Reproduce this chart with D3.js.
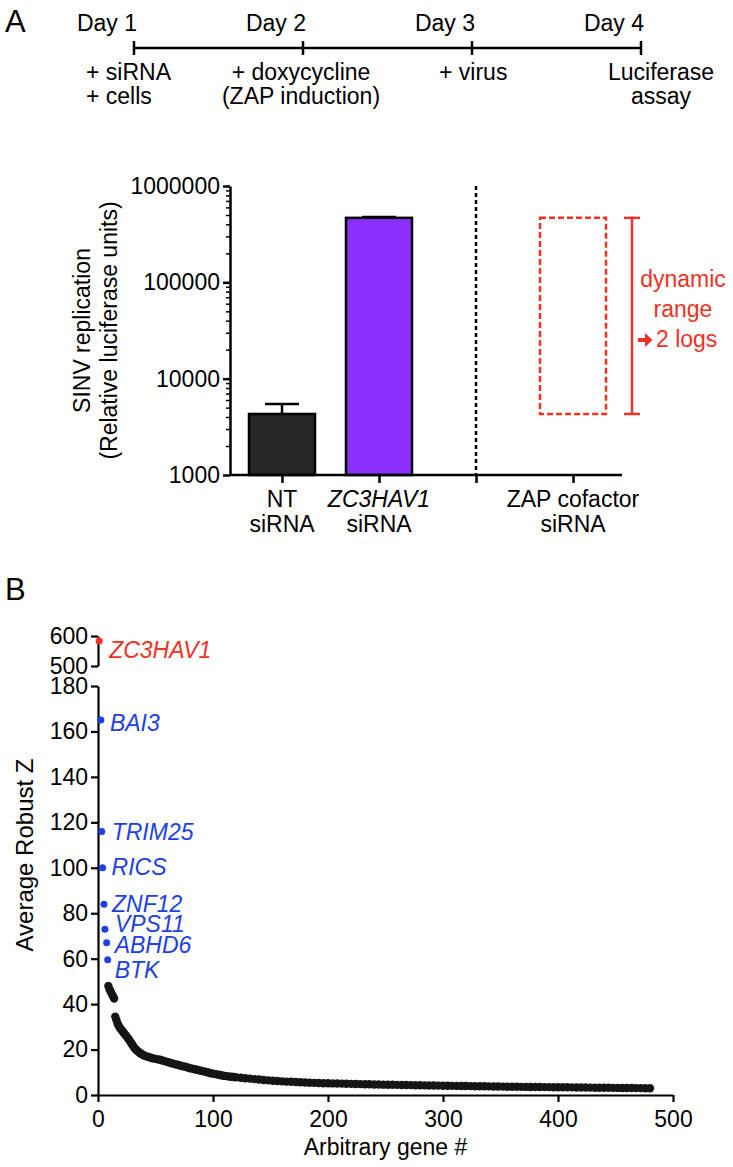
<!DOCTYPE html>
<html>
<head>
<meta charset="utf-8">
<script src="https://cdnjs.cloudflare.com/ajax/libs/d3/7.8.5/d3.min.js"></script>
<style>
  body { margin: 0; background: #fff; }
  svg text { font-family: "Liberation Sans", Arial, Helvetica, sans-serif; }
</style>
</head>
<body>
<div id="figure"></div>
<script>
// ---------------- Panel A data ----------------
var timelineDays = ["Day 1", "Day 2", "Day 3", "Day 4"];
var timelineNotes = [["+ siRNA", "+ cells"], ["+ doxycycline", "(ZAP induction)"], ["+ virus"], ["Luciferase", "assay"]];

var barLabels = [["NT", "siRNA"], ["ZC3HAV1", "siRNA"], ["ZAP cofactor", "siRNA"]];
var barValues = [4300, 467000];      // mean luciferase units
var barErrorTop = [5450, 478000];    // upper end of error bar
var logTicks = [1000, 10000, 100000, 1000000];

// ---------------- Panel B data ----------------
var hitGenes = ["ZC3HAV1", "BAI3", "TRIM25", "RICS", "ZNF12", "VPS11", "ABHD6", "BTK"];
var hitRank = [1, 2.5, 3.2, 4, 5.2, 6, 7.5, 8.4];
var hitZ = [583, 165, 116, 100, 84, 73, 67, 59.5];

// [rank, average robust Z] for the remaining genes
var otherGenes = [
  [9, 48], [10, 46.5], [11, 45.5], [12, 44.5], [13, 43.5], [14, 42.5],
  [15, 34.5], [16, 33], [17, 31.5], [18, 30.5], [19, 29.5], [20, 29], [21, 28.3], [22, 27.6],
  [23, 27], [24, 26.3], [25, 25.7], [26, 25], [27, 24.3], [28, 23.5], [29, 22.8], [30, 22],
  [31, 21.2], [32, 20.5], [33, 20], [34, 19.5], [35, 19.1], [36, 18.7], [37, 18.3], [38, 18],
  [39, 17.7], [40, 17.4], [42, 17], [44, 16.7], [46, 16.4], [48, 16.1], [50, 15.9], [52, 15.7],
  [54, 15.5], [56, 15.2], [58, 14.9], [60, 14.6], [62, 14.3], [64, 14], [66, 13.7], [68, 13.4],
  [70, 13.2], [72, 12.9], [74, 12.6], [76, 12.4], [78, 12.1], [80, 11.8], [82, 11.6], [84, 11.3],
  [86, 11.1], [88, 10.9], [90, 10.6], [92, 10.4], [94, 10.1], [96, 9.9], [98, 9.6], [100, 9.4],
  [102, 9.2], [104, 9], [106, 8.8], [108, 8.6], [110, 8.4], [112, 8.3], [114, 8.1], [116, 8],
  [118, 7.9], [120, 7.8], [124, 7.6], [128, 7.4], [132, 7.2], [136, 7], [140, 6.8], [144, 6.6],
  [148, 6.45], [152, 6.3], [156, 6.15], [160, 6], [164, 5.9], [168, 5.8], [172, 5.7], [176, 5.6],
  [180, 5.5], [184, 5.4], [188, 5.35], [192, 5.3], [196, 5.2], [200, 5.15], [204, 5.1], [208, 5.05],
  [212, 5], [216, 4.95], [220, 4.9], [224, 4.85], [228, 4.8], [232, 4.75], [236, 4.7], [240, 4.65],
  [244, 4.6], [248, 4.55], [252, 4.5], [256, 4.48], [260, 4.45], [264, 4.42], [268, 4.38], [272, 4.35],
  [276, 4.3], [280, 4.28], [284, 4.25], [288, 4.2], [292, 4.17], [296, 4.14], [300, 4.1], [304, 4.06],
  [308, 4.03], [312, 4], [316, 3.97], [320, 3.94], [324, 3.91], [328, 3.88], [332, 3.85], [336, 3.82],
  [340, 3.79], [344, 3.76], [348, 3.72], [352, 3.69], [356, 3.66], [360, 3.63], [364, 3.6], [368, 3.58],
  [372, 3.56], [376, 3.54], [380, 3.52], [384, 3.5], [388, 3.48], [392, 3.46], [396, 3.44], [400, 3.42],
  [404, 3.4], [408, 3.38], [412, 3.36], [416, 3.33], [420, 3.3], [424, 3.28], [428, 3.25], [432, 3.22],
  [436, 3.2], [440, 3.18], [444, 3.16], [448, 3.14], [452, 3.12], [456, 3.1], [460, 3.08], [464, 3.06],
  [468, 3.04], [472, 3.02], [476, 3], [480, 2.98]
];
var zTicksTop = [500, 600];
var zTicksBottom = [0, 20, 40, 60, 80, 100, 120, 140, 160, 180];
var rankTicks = [0, 100, 200, 300, 400, 500];

// ---------------- setup ----------------
var width = 733, height = 1167;
var fs = 23;
var red = "#ee3224", blue = "#1d3fe6";

var svg = d3.select("#figure").append("svg")
    .attr("width", width)
    .attr("height", height)
    .attr("viewBox", "0 0 " + width + " " + height);

svg.append("rect").attr("width", width).attr("height", height).attr("fill", "#fff");

// shared axis look: thick black lines, large labels
function styleAxis(g, sw) {
    g.select(".domain").attr("stroke", "#000").attr("stroke-width", sw);
    g.selectAll(".tick line").attr("stroke", "#000").attr("stroke-width", sw);
    g.selectAll(".tick text").attr("fill", "#000").style("font-size", fs + "px");
}

// panel letters
svg.append("text").attr("x", 5).attr("y", 32).style("font-size", "31px").text("A");
svg.append("text").attr("x", 5).attr("y", 600).style("font-size", "31px").text("B");

// ****************** Panel A: timeline ******************
var xDay = d3.scalePoint().domain(timelineDays).range([134, 641]);
var tl = svg.append("g");

tl.append("line")
    .attr("x1", xDay(timelineDays[0])).attr("x2", xDay(timelineDays[3]))
    .attr("y1", 48).attr("y2", 48)
    .attr("stroke", "#000").attr("stroke-width", 2.5);

tl.selectAll("line.dtick").data(timelineDays).enter().append("line")
    .attr("class", "dtick")
    .attr("x1", function (d) { return xDay(d); }).attr("x2", function (d) { return xDay(d); })
    .attr("y1", 41).attr("y2", 55)
    .attr("stroke", "#000").attr("stroke-width", 2.5);

tl.selectAll("text.day").data(timelineDays).enter().append("text")
    .attr("class", "day")
    .attr("x", function (d) { return xDay(d) + 3; })
    .attr("y", 31)
    .attr("text-anchor", "end")
    .style("font-size", fs + "px")
    .text(function (d) { return d; });

// note block alignment relative to its day tick
var noteAnchor = ["start", "middle", "start", "middle"];
var noteShift = [-48, -2, -33, 20];
timelineNotes.forEach(function (lines, i) {
    var t = tl.append("text")
        .attr("text-anchor", noteAnchor[i])
        .style("font-size", fs + "px");
    lines.forEach(function (s, j) {
        t.append("tspan")
            .attr("x", xDay(timelineDays[i]) + noteShift[i])
            .attr("y", 80 + j * 24)
            .text(s);
    });
});

// ****************** Panel A: bar chart ******************
var axisXA = 230, baseA = 475;
var yA = d3.scaleLog().domain([1000, 1000000]).range([baseA, 186]);
var xA = d3.scaleLinear().domain([0, 3]).range([282, 573]);
var barW = 66;
var gA = svg.append("g");

// minor log ticks
var minorTicks = [];
logTicks.slice(0, 3).forEach(function (dec) {
    for (var k = 2; k < 10; k++) minorTicks.push(dec * k);
});
gA.append("g")
    .attr("transform", "translate(" + axisXA + ",0)")
    .call(d3.axisLeft(yA).tickValues(minorTicks).tickSize(4).tickSizeOuter(0).tickFormat(""))
    .call(function (g) { g.select(".domain").remove(); g.selectAll(".tick line").attr("stroke", "#000").attr("stroke-width", 1.5); });

gA.append("g")
    .attr("transform", "translate(" + axisXA + ",0)")
    .call(d3.axisLeft(yA).tickValues(logTicks).tickSize(7).tickSizeOuter(0).tickFormat(d3.format("d")))
    .call(styleAxis, 2.5);

// bars
gA.selectAll("rect.bar").data(barValues).enter().append("rect")
    .attr("class", "bar")
    .attr("x", function (d, i) { return xA(i) - barW / 2; })
    .attr("y", function (d) { return yA(d); })
    .attr("width", barW)
    .attr("height", function (d) { return baseA - yA(d); })
    .attr("fill", function (d, i) { return i === 0 ? "#262626" : "#8b30ff"; })
    .attr("stroke", "#000")
    .attr("stroke-width", 2.5);

// error bars
barErrorTop.forEach(function (e, i) {
    gA.append("line")
        .attr("x1", xA(i)).attr("x2", xA(i))
        .attr("y1", yA(barValues[i])).attr("y2", yA(e))
        .attr("stroke", "#000").attr("stroke-width", 2.5);
    gA.append("line")
        .attr("x1", xA(i) - 17).attr("x2", xA(i) + 17)
        .attr("y1", yA(e)).attr("y2", yA(e))
        .attr("stroke", "#000").attr("stroke-width", 2.5);
});

// x axis line and ticks
gA.append("line")
    .attr("x1", axisXA).attr("x2", 622).attr("y1", baseA).attr("y2", baseA)
    .attr("stroke", "#000").attr("stroke-width", 2.5);
gA.append("g")
    .attr("transform", "translate(0," + baseA + ")")
    .call(d3.axisBottom(xA).tickValues([0, 1, 2, 3]).tickSize(8).tickSizeOuter(0).tickFormat(""))
    .call(function (g) { g.select(".domain").remove(); g.selectAll(".tick line").attr("stroke", "#000").attr("stroke-width", 2.5); });

// dashed divider
gA.append("line")
    .attr("x1", xA(2)).attr("x2", xA(2))
    .attr("y1", 186).attr("y2", baseA)
    .attr("stroke", "#000").attr("stroke-width", 2.5)
    .attr("stroke-dasharray", "4,3");

// category labels (ZAP cofactor sits at position 3)
var labelPos = [0, 1, 3];
barLabels.forEach(function (lines, i) {
    lines.forEach(function (s, j) {
        gA.append("text")
            .attr("x", xA(labelPos[i]))
            .attr("y", 507 + j * 25)
            .attr("text-anchor", "middle")
            .style("font-size", fs + "px")
            .style("font-style", (i === 1 && j === 0) ? "italic" : "normal")
            .text(s);
    });
});

// y axis title
[["SINV replication", 90], ["(Relative luciferase units)", 117]].forEach(function (t) {
    gA.append("text")
        .attr("transform", "translate(" + t[1] + "," + (186 + baseA) / 2 + ") rotate(-90)")
        .attr("text-anchor", "middle")
        .style("font-size", fs + "px")
        .text(t[0]);
});

// expected range for a cofactor knockdown
var cx = xA(3);
gA.append("rect")
    .attr("x", cx - barW / 2).attr("y", yA(barValues[1]))
    .attr("width", barW).attr("height", yA(barValues[0]) - yA(barValues[1]))
    .attr("fill", "none").attr("stroke", red).attr("stroke-width", 2.5)
    .attr("stroke-dasharray", "6,3");

var rx = cx + 59;
gA.append("line").attr("x1", rx).attr("x2", rx)
    .attr("y1", yA(barValues[1])).attr("y2", yA(barValues[0]))
    .attr("stroke", red).attr("stroke-width", 2.5);
[barValues[1], barValues[0]].forEach(function (v) {
    gA.append("line").attr("x1", rx - 8).attr("x2", rx + 8)
        .attr("y1", yA(v)).attr("y2", yA(v))
        .attr("stroke", red).attr("stroke-width", 2.5);
});

gA.append("text").attr("x", 683).attr("y", 287).attr("text-anchor", "middle")
    .attr("fill", red).style("font-size", fs + "px").text("dynamic");
gA.append("text").attr("x", 683).attr("y", 317).attr("text-anchor", "middle")
    .attr("fill", red).style("font-size", fs + "px").text("range");
gA.append("path")
    .attr("d", "M638,338 h7 v-5 l7.5,7 l-7.5,7 v-5 h-7 z")
    .attr("fill", red);
gA.append("text").attr("x", 656).attr("y", 347)
    .attr("fill", red).style("font-size", fs + "px").text("2 logs");

// ****************** Panel B: ranked robust Z ******************
var axisXB = 98, baseB = 1095;
var xB = d3.scaleLinear().domain([0, 500]).range([axisXB, 673]);
var yBot = d3.scaleLinear().domain([0, 180]).range([baseB, 686]);
var yTop = d3.scaleLinear().domain([500, 600]).range([666, 636]);
var gB = svg.append("g");

gB.append("g")
    .attr("transform", "translate(" + axisXB + ",0)")
    .call(d3.axisLeft(yBot).tickValues(zTicksBottom).tickSize(7).tickSizeOuter(0))
    .call(styleAxis, 2.2);
gB.append("g")
    .attr("transform", "translate(" + axisXB + ",0)")
    .call(d3.axisLeft(yTop).tickValues(zTicksTop).tickSize(7).tickSizeOuter(0))
    .call(styleAxis, 2.2);
gB.append("g")
    .attr("transform", "translate(0," + baseB + ")")
    .call(d3.axisBottom(xB).tickValues(rankTicks).tickSize(7).tickSizeOuter(0))
    .call(styleAxis, 2.2)
    .call(function (g) { g.selectAll(".tick text").attr("dy", "0.95em"); });

// axis titles
gB.append("text")
    .attr("transform", "translate(33,855) rotate(-90)")
    .attr("text-anchor", "middle")
    .style("font-size", "24px")
    .text("Average Robust Z");
gB.append("text")
    .attr("x", (xB(0) + xB(500)) / 2).attr("y", 1155)
    .attr("text-anchor", "middle")
    .style("font-size", fs + "px")
    .text("Arbitrary gene #");

// bulk of the screen
gB.selectAll("circle.gene").data(otherGenes).enter().append("circle")
    .attr("class", "gene")
    .attr("cx", function (d) { return xB(d[0]); })
    .attr("cy", function (d) { return yBot(d[1]); })
    .attr("r", 4.2)
    .attr("fill", "#151515");

// labelled hits
function hitY(z) { return z > 180 ? yTop(z) : yBot(z); }
var labelDx = [10, 9, 10, 9, 8, 10, 8, 7];
var labelDy = [17, 11, 9, 7, 8, 3, 10, 18];
hitGenes.forEach(function (g, i) {
    var col = i === 0 ? red : blue;
    var px = xB(hitRank[i]), py = hitY(hitZ[i]);
    gB.append("circle").attr("cx", px).attr("cy", py).attr("r", 3.5).attr("fill", col);
    gB.append("text")
        .attr("x", px + labelDx[i]).attr("y", py + labelDy[i])
        .attr("fill", col)
        .style("font-size", fs + "px")
        .style("font-style", "italic")
        .text(g);
});
</script>
</body>
</html>
